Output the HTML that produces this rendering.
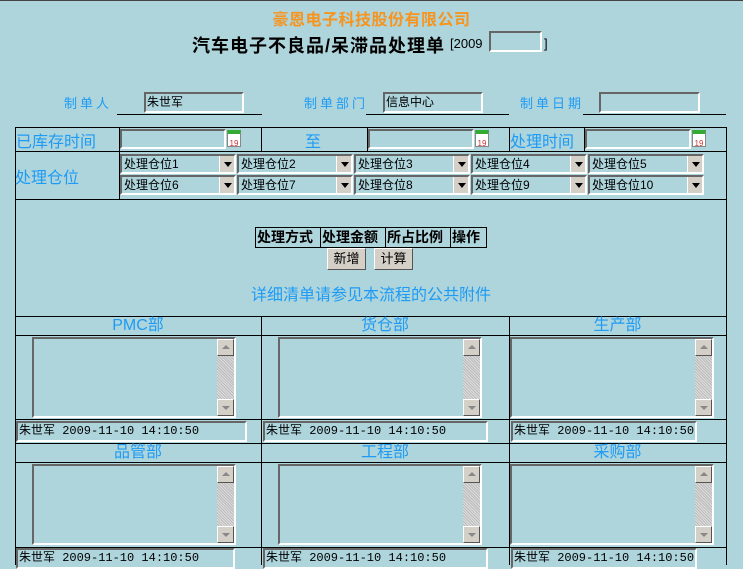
<!DOCTYPE html>
<html><head><meta charset="utf-8">
<style>
body{margin:0;width:743px;height:565px;background:#aed4dc;position:relative;overflow:hidden;font-family:"Liberation Sans","Noto Sans CJK SC",sans-serif;}
.a{position:absolute;}
.bl{color:#1e9bf5;}
.in{position:absolute;box-sizing:border-box;border:2px solid;border-color:#666 #fff #fff #666;background:#aed4dc;font-size:12px;line-height:16px;color:#000;padding-left:1px;white-space:nowrap;overflow:hidden;}
.mo{font-family:"Liberation Mono","Noto Sans CJK SC",monospace;font-size:12px;}
.hl{position:absolute;height:1px;background:#000;}
.vl{position:absolute;width:1px;background:#000;}
.cal{position:absolute;width:14px;height:17px;background:#fff;border:1px solid #888;box-sizing:border-box;font-size:8px;color:#c33;text-align:center;line-height:20px;border-top:4px solid #3a3;}
.sel{position:absolute;box-sizing:border-box;width:116px;height:20px;border:2px solid;border-color:#666 #fff #fff #666;font-size:12px;line-height:16px;padding-left:2px;}
.sel b{position:absolute;right:0;top:0;width:15px;height:16px;background:#d4d0c8;border-left:1px solid #fff;box-sizing:border-box;}
.sel b:after{content:"";position:absolute;left:4px;top:6px;border:4px solid transparent;border-top:5px solid #000;border-bottom:0;}
.ta{position:absolute;box-sizing:border-box;width:204px;height:81px;border:2px solid;border-color:#666 #fff #fff #666;}
.sb{position:absolute;right:0;top:0;width:17px;height:77px;background:repeating-linear-gradient(45deg,#ddd 0 1px,#bbb 1px 2px);}
.sb i{position:absolute;left:0;width:17px;height:17px;background:#d4d0c8;border:1px solid;border-color:#fff #555 #555 #fff;box-sizing:border-box;}
.sb i.u:after{content:"";position:absolute;left:4px;top:5px;border:4px solid transparent;border-bottom:4px solid #888;border-top:0;}
.sb i.d:after{content:"";position:absolute;left:4px;top:6px;border:4px solid transparent;border-top:4px solid #888;border-bottom:0;}
.btn{position:absolute;box-sizing:border-box;height:22px;background:#d4d0c8;border:1px solid;border-color:#fff #555 #555 #fff;font-size:13px;text-align:center;line-height:20px;}
.dh{position:absolute;font-size:16px;line-height:18px;text-align:center;color:#1e9bf5;}
</style></head><body>
<div class="a" style="left:0;top:0;width:743px;height:1px;background:#444"></div>
<div class="a" style="left:0;top:6px;width:743px;text-align:center;font-size:16px;font-weight:bold;color:#f7941d;letter-spacing:0.5px">豪恩电子科技股份有限公司</div>
<div class="a" style="left:192px;top:32px;font-size:18px;font-weight:bold;letter-spacing:1px;white-space:nowrap">汽车电子不良品/呆滞品处理单</div>
<div class="a" style="left:450px;top:36px;font-size:13px">[2009</div>
<div class="in" style="left:489px;top:31px;width:53px;height:21px"></div>
<div class="a" style="left:544px;top:36px;font-size:13px">]</div>

<div class="a bl" style="left:64px;top:93px;font-size:13px;letter-spacing:3px">制单人</div>
<div class="in" style="left:144px;top:92px;width:100px;height:21px">朱世军</div>
<div class="hl" style="left:117px;top:114px;width:145px"></div>
<div class="a bl" style="left:304px;top:93px;font-size:13px;letter-spacing:3px">制单部门</div>
<div class="in" style="left:383px;top:92px;width:100px;height:21px">信息中心</div>
<div class="hl" style="left:366px;top:114px;width:143px"></div>
<div class="a bl" style="left:520px;top:93px;font-size:13px;letter-spacing:3px">制单日期</div>
<div class="in" style="left:599px;top:92px;width:101px;height:21px"></div>
<div class="hl" style="left:583px;top:114px;width:143px"></div>

<div class="hl" style="left:15px;top:127px;width:712px"></div>
<div class="hl" style="left:15px;top:151px;width:712px"></div>
<div class="hl" style="left:15px;top:199px;width:712px"></div>
<div class="hl" style="left:15px;top:316px;width:712px"></div>
<div class="hl" style="left:15px;top:335px;width:712px"></div>
<div class="hl" style="left:15px;top:419px;width:712px"></div>
<div class="hl" style="left:15px;top:443px;width:712px"></div>
<div class="hl" style="left:15px;top:462px;width:712px"></div>
<div class="hl" style="left:15px;top:547px;width:712px"></div>
<div class="vl" style="left:15px;top:127px;height:438px"></div>
<div class="vl" style="left:726px;top:127px;height:438px"></div>
<div class="vl" style="left:119px;top:127px;height:72px"></div>
<div class="vl" style="left:261px;top:127px;height:24px"></div>
<div class="vl" style="left:367px;top:127px;height:24px"></div>
<div class="vl" style="left:509px;top:127px;height:24px"></div>
<div class="vl" style="left:584px;top:127px;height:24px"></div>
<div class="vl" style="left:261px;top:316px;height:249px"></div>
<div class="vl" style="left:509px;top:316px;height:249px"></div>

<div class="a bl" style="left:16px;top:128px;font-size:16px">已库存时间</div>
<div class="in" style="left:120px;top:129px;width:106px;height:20px"></div>
<div class="cal" style="left:227px;top:130px">19</div>
<div class="a bl" style="left:305px;top:128px;font-size:16px">至</div>
<div class="in" style="left:368px;top:129px;width:106px;height:20px"></div>
<div class="cal" style="left:475px;top:130px">19</div>
<div class="a bl" style="left:510px;top:128px;font-size:16px">处理时间</div>
<div class="in" style="left:585px;top:129px;width:106px;height:20px"></div>
<div class="cal" style="left:692px;top:130px">19</div>

<div class="a bl" style="left:15px;top:164px;font-size:16px">处理仓位</div>
<div class="sel" style="left:120px;top:154px">处理仓位1<b></b></div>
<div class="sel" style="left:237px;top:154px">处理仓位2<b></b></div>
<div class="sel" style="left:354px;top:154px">处理仓位3<b></b></div>
<div class="sel" style="left:471px;top:154px">处理仓位4<b></b></div>
<div class="sel" style="left:588px;top:154px">处理仓位5<b></b></div>
<div class="sel" style="left:120px;top:175px">处理仓位6<b></b></div>
<div class="sel" style="left:237px;top:175px">处理仓位7<b></b></div>
<div class="sel" style="left:354px;top:175px">处理仓位8<b></b></div>
<div class="sel" style="left:471px;top:175px">处理仓位9<b></b></div>
<div class="sel" style="left:588px;top:175px">处理仓位10<b></b></div>

<div class="a" style="left:255px;top:227px;width:230px;height:19px;border:1px solid #000;font-size:14px;font-weight:bold;line-height:19px;white-space:nowrap">
<span class="a" style="left:1px;top:0">处理方式</span>
<span class="a" style="left:64px;top:0;height:19px;border-left:1px solid #000;padding-left:1px">处理金额</span>
<span class="a" style="left:129px;top:0;height:19px;border-left:1px solid #000;padding-left:1px">所占比例</span>
<span class="a" style="left:194px;top:0;height:19px;border-left:1px solid #000;padding-left:1px">操作</span>
</div>
<div class="btn" style="left:327px;top:248px;width:39px">新增</div>
<div class="btn" style="left:374px;top:248px;width:39px">计算</div>
<div class="a bl" style="left:15px;top:287px;width:712px;text-align:center;font-size:16px;line-height:18px">详细清单请参见本流程的公共附件</div>

<div class="dh" style="left:15px;top:317px;width:246px">PMC部</div>
<div class="dh" style="left:261px;top:317px;width:248px">货仓部</div>
<div class="dh" style="left:509px;top:317px;width:217px">生产部</div>
<div class="dh" style="left:15px;top:444px;width:246px">品管部</div>
<div class="dh" style="left:261px;top:444px;width:248px">工程部</div>
<div class="dh" style="left:509px;top:444px;width:217px">采购部</div>

<div class="ta" style="left:32px;top:337px"><div class="sb"><i class="u" style="top:0"></i><i class="d" style="bottom:0"></i></div></div>
<div class="ta" style="left:278px;top:337px"><div class="sb"><i class="u" style="top:0"></i><i class="d" style="bottom:0"></i></div></div>
<div class="ta" style="left:510px;top:337px"><div class="sb"><i class="u" style="top:0"></i><i class="d" style="bottom:0"></i></div></div>
<div class="ta" style="left:32px;top:464px"><div class="sb"><i class="u" style="top:0"></i><i class="d" style="bottom:0"></i></div></div>
<div class="ta" style="left:278px;top:464px"><div class="sb"><i class="u" style="top:0"></i><i class="d" style="bottom:0"></i></div></div>
<div class="ta" style="left:510px;top:464px"><div class="sb"><i class="u" style="top:0"></i><i class="d" style="bottom:0"></i></div></div>

<div class="in mo" style="left:16px;top:421px;width:231px;height:21px">朱世军 2009-11-10 14:10:50</div>
<div class="in mo" style="left:263px;top:421px;width:225px;height:21px">朱世军 2009-11-10 14:10:50</div>
<div class="in mo" style="left:511px;top:421px;width:186px;height:21px">朱世军 2009-11-10 14:10:50</div>
<div class="in mo" style="left:16px;top:548px;width:219px;height:21px">朱世军 2009-11-10 14:10:50</div>
<div class="in mo" style="left:263px;top:548px;width:225px;height:21px">朱世军 2009-11-10 14:10:50</div>
<div class="in mo" style="left:511px;top:548px;width:186px;height:21px">朱世军 2009-11-10 14:10:50</div>
</body></html>
